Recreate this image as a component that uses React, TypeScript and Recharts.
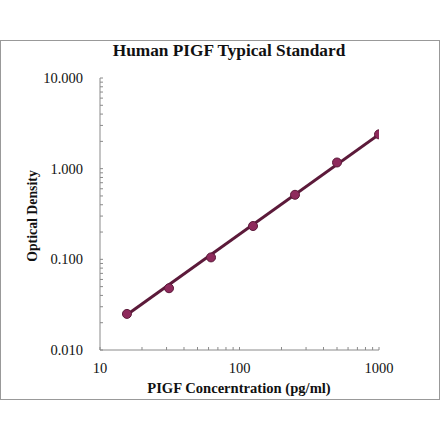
import { ScatterChart, Scatter, XAxis, YAxis } from 'recharts';

// standard curve
const concentration = [15.6, 31.25, 62.5, 125, 250, 500, 1000];
const opticalDensity = [0.025, 0.048, 0.105, 0.233, 0.515, 1.17, 2.39];

// straight fitted line, ends
const fitConcentration = [15.6, 1000];
const fitDensity = [0.0245, 2.38];

const xMajorTicks = [10, 100, 1000];
const xTicks = [10, 20, 30, 40, 50, 60, 70, 80, 90, 100, 200, 300, 400, 500, 600, 700, 800, 900, 1000];
const yMajorTicks = [0.01, 0.1, 1, 10];
const yTicks = [
  0.01, 0.02, 0.03, 0.04, 0.05, 0.06, 0.07, 0.08, 0.09,
  0.1, 0.2, 0.3, 0.4, 0.5, 0.6, 0.7, 0.8, 0.9,
  1, 2, 3, 4, 5, 6, 7, 8, 9, 10,
];

const points = concentration.map((c, i) => ({ x: c, y: opticalDensity[i] }));
const fit = fitConcentration.map((c, i) => ({ x: c, y: fitDensity[i] }));

const FONT = '"Liberation Serif", "Times New Roman", serif';
const AXIS = '#8a8a8a';

const isMajor = (list: number[], v: number) => list.some((m) => Math.abs(m - v) / m < 1e-6);

function XTick(props: any) {
  const { x, y, payload } = props;
  const v = payload.value;
  return (
    <g>
      <line x1={x} y1={y} x2={x} y2={y - 3} stroke={AXIS} strokeWidth={1} />
      {isMajor(xMajorTicks, v) && (
        <text x={x} y={y + 18} textAnchor="middle" dominantBaseline="central"
          fontFamily={FONT} fontSize={14.5} fill="#111">
          {v}
        </text>
      )}
    </g>
  );
}

function YTick(props: any) {
  const { x, y, payload } = props;
  const v = payload.value;
  return (
    <g>
      <line x1={x} y1={y} x2={x + 3} y2={y} stroke={AXIS} strokeWidth={1} />
      {isMajor(yMajorTicks, v) && (
        <text x={x - 17} y={y} textAnchor="end" dominantBaseline="central"
          fontFamily={FONT} fontSize={14.5} fill="#111">
          {v.toFixed(3)}
        </text>
      )}
    </g>
  );
}

export default function App() {
  return (
    <div style={{ position: 'absolute', left: 0, top: 0, width: 440, height: 441, background: '#fff' }}>
      {/* outer frame */}
      <div style={{
        position: 'absolute', left: 0, top: 40, width: 438, height: 358,
        border: '1px solid #999', boxSizing: 'content-box',
      }} />
      <div style={{
        position: 'absolute', left: 0, top: 41, width: 440, textAlign: 'center',
        paddingLeft: 18, boxSizing: 'border-box',
        fontFamily: FONT, fontWeight: 'bold', fontSize: 17.3, color: '#111',
      }}>
        Human PIGF Typical Standard
      </div>
      <div style={{
        position: 'absolute', left: 0, top: 380, width: 440, textAlign: 'center',
        paddingLeft: 38, boxSizing: 'border-box',
        fontFamily: FONT, fontWeight: 'bold', fontSize: 14.6, color: '#111',
      }}>
        PIGF Concerntration (pg/ml)
      </div>
      <div style={{
        position: 'absolute', left: 33, top: 216, transform: 'translate(-50%, -50%) rotate(-90deg)',
        whiteSpace: 'nowrap',
        fontFamily: FONT, fontWeight: 'bold', fontSize: 13.8, color: '#111',
      }}>
        Optical Density
      </div>
      <div style={{ position: 'absolute', left: 0, top: 0 }}>
        <ScatterChart width={440} height={441} margin={{ top: 78, right: 61, bottom: 0, left: 0 }}>
          <XAxis
            type="number"
            dataKey="x"
            scale="log"
            domain={[10, 1000]}
            allowDataOverflow
            ticks={xTicks}
            interval={0}
            tickSize={0}
            tickMargin={0}
            tickLine={false}
            tick={<XTick />}
            height={91}
            axisLine={{ stroke: AXIS, strokeWidth: 1 }}
          />
          <YAxis
            type="number"
            dataKey="y"
            scale="log"
            domain={[0.01, 10]}
            allowDataOverflow
            ticks={yTicks}
            interval={0}
            tickSize={0}
            tickMargin={0}
            tickLine={false}
            tick={<YTick />}
            width={100}
            axisLine={{ stroke: AXIS, strokeWidth: 1 }}
          />
          <Scatter
            data={fit}
            line={{ stroke: '#5c1a3a', strokeWidth: 3 }}
            shape={() => null}
            isAnimationActive={false}
          />
          <Scatter
            data={points}
            shape={(p: any) => (
              <circle cx={p.cx} cy={p.cy} r={4.5} fill="#8e2a5c" stroke="#5c1a3a" strokeWidth={1} />
            )}
            isAnimationActive={false}
          />
        </ScatterChart>
      </div>
    </div>
  );
}
